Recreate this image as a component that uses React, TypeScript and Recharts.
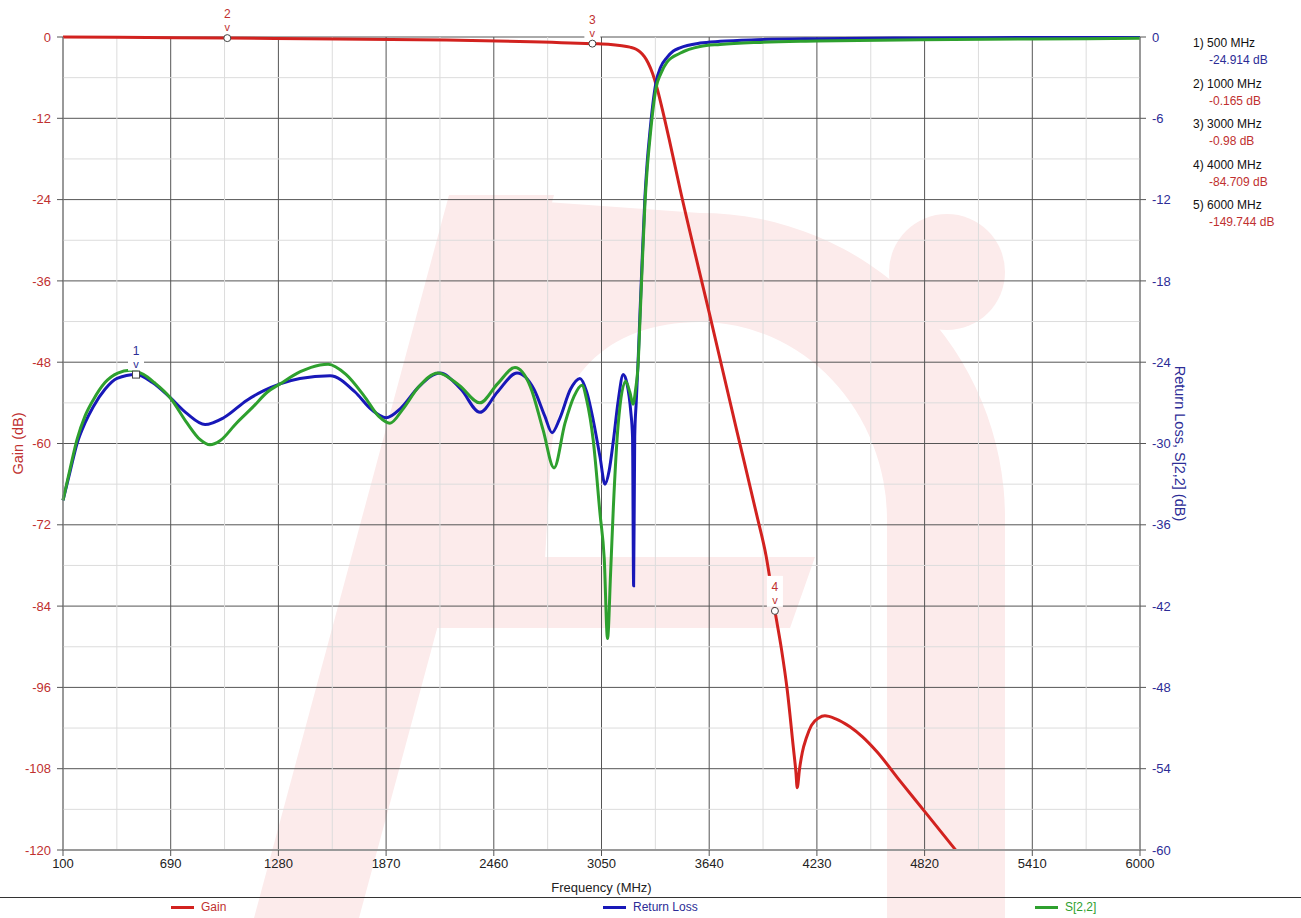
import React from "react"
import {
    LineChart,
    Line,
    XAxis,
    YAxis,
    CartesianGrid,
    ReferenceLine,
    ReferenceDot,
} from "recharts"

// axis ticks
const freqTicks = [100, 690, 1280, 1870, 2460, 3050, 3640, 4230, 4820, 5410, 6000]
const freqMinor = [395, 985, 1575, 2165, 2755, 3345, 3935, 4525, 5115, 5705]
const gainTicks = [-120, -108, -96, -84, -72, -60, -48, -36, -24, -12, 0]
const gainMinor = [-114, -102, -90, -78, -66, -54, -42, -30, -18, -6]
const rlTicks = [-60, -54, -48, -42, -36, -30, -24, -18, -12, -6, 0]

// Gain (left axis)
const gainFreq = [100, 400, 1000, 1600, 2200, 2600, 3000, 3100, 3150, 3206, 3240, 3261, 3285, 3305, 3330, 3354, 3380, 3420, 3480, 3641, 3792, 3900, 3951, 4000, 4035, 4068, 4101, 4115, 4122, 4135, 4150, 4173, 4200, 4240, 4274, 4330, 4411, 4480, 4559, 4685, 4820, 4990]
const gainDb = [0, -0.05, -0.165, -0.28, -0.45, -0.65, -0.98, -1.1, -1.25, -1.5, -1.8, -2.2, -2.9, -3.8, -5.4, -7.5, -10.3, -15, -22.4, -40.8, -58.2, -70.5, -76.5, -84.7, -90.2, -96.5, -104.9, -108.5, -110.8, -108, -105.6, -103.4, -101.6, -100.5, -100.2, -100.6, -101.8, -103.3, -105.5, -109.8, -114.3, -120]

// Return Loss (right axis)
const rlFreq = [100, 140, 177, 220, 265, 330, 396, 500, 590, 686, 780, 878, 980, 1108, 1200, 1289, 1398, 1563, 1700, 1790, 1870, 1950, 2050, 2165, 2280, 2384, 2480, 2587, 2680, 2740, 2779, 2820, 2880, 2932, 2969, 3005, 3042, 3069, 3092, 3115, 3142, 3169, 3190, 3210, 3220, 3226, 3232, 3240, 3250, 3262, 3272, 3288, 3300, 3316, 3330, 3348, 3375, 3409, 3442, 3480, 3590, 3700, 3900, 4230, 4800, 5400, 6000]
const rlDb = [-34.2, -32, -30, -28.5, -27.3, -26, -25.2, -24.91, -25.5, -26.6, -27.8, -28.6, -28.1, -26.8, -26.1, -25.6, -25.2, -25.0, -26.2, -27.5, -28.1, -27.4, -25.8, -24.8, -26, -27.7, -26.2, -24.8, -26, -28, -29.2, -28.2, -26, -25.2, -26.2, -28.3, -31.0, -33.0, -32.0, -29.8, -26.8, -24.9, -25.6, -27.6, -29.5, -40.5, -29.5, -27, -24.1, -20, -16.7, -11.8, -9.3, -6.9, -5.1, -3.4, -2.2, -1.5, -1.05, -0.8, -0.45, -0.32, -0.2, -0.12, -0.07, -0.04, -0.03]

// S[2,2] (right axis)
const s22Freq = [100, 140, 177, 220, 265, 330, 400, 467, 540, 600, 686, 780, 850, 905, 960, 1050, 1141, 1220, 1289, 1400, 1508, 1552, 1650, 1750, 1830, 1891, 1960, 2050, 2154, 2270, 2384, 2480, 2576, 2660, 2730, 2790, 2850, 2900, 2943, 2969, 3005, 3042, 3065, 3083, 3100, 3115, 3142, 3182, 3205, 3223, 3237, 3250, 3262, 3272, 3288, 3300, 3316, 3330, 3348, 3375, 3409, 3480, 3590, 3700, 3900, 4230, 4800, 5400, 6000]
const s22Db = [-34.2, -31.8, -29.7, -28.0, -26.8, -25.5, -24.8, -24.6, -24.9, -25.5, -26.6, -28.5, -29.7, -30.1, -29.8, -28.5, -27.3, -26.2, -25.6, -24.7, -24.2, -24.15, -24.9, -26.5, -28.0, -28.5, -27.5, -25.8, -24.8, -25.7, -27.0, -25.6, -24.4, -25.8, -29.0, -31.8, -28.5, -26.5, -25.7, -26.8, -29.8, -35.2, -38.5, -44.4, -39.5, -34.7, -28.5, -25.4, -26.2, -27.1, -26.0, -24.3, -20.5, -17.2, -12.3, -9.8, -7.4, -5.6, -3.8, -2.7, -1.85, -1.2, -0.7, -0.55, -0.4, -0.3, -0.2, -0.15, -0.1]

// markers
const markerIds = ["1", "2", "3", "4", "5"]
const markerFreq = [500, 1000, 3000, 4000, 6000]
const markerVal = [-24.914, -0.165, -0.98, -84.709, -149.744]
const markerAxis = ["rl", "gain", "gain", "gain", "gain"]

const RED = "#d2221f"
const BLUE = "#1818b8"
const GREEN = "#2ea02e"
const RED_TEXT = "#c0302f"
const BLUE_TEXT = "#2c2c96"

const toRows = (f: number[], v: number[]) => f.map((x, i) => ({ f: x, v: v[i] }))
const gainData = toRows(gainFreq, gainDb)
const rlData = toRows(rlFreq, rlDb)
const s22Data = toRows(s22Freq, s22Db)

function MarkerShape(props: any) {
    const { cx, cy, id, color, square } = props
    return (
        <g>
            <rect x={cx - 8} y={cy - 35} width={16} height={31} fill="#fff" />
            <text x={cx} y={cy - 20} textAnchor="middle" fill={color} fontSize={12}>{id}</text>
            <text x={cx} y={cy - 7} textAnchor="middle" fill={color} fontSize={11}>v</text>
            {square ? (
                <rect x={cx - 3.5} y={cy - 3.5} width={7} height={7} fill="#fff" stroke="#444" strokeWidth={1} />
            ) : (
                <circle cx={cx} cy={cy} r={3.5} fill="#fff" stroke="#444" strokeWidth={1} />
            )}
        </g>
    )
}

// faint logo behind the plot
function Watermark() {
    return (
        <svg width={1301} height={918} style={{ position: "absolute", left: 0, top: 0 }}>
            <g fill="#fcebeb">
                <polygon points="254,918 359,918 554,195 449,195" />
                <polygon points="430,557 815,557 790,628 415,628" />
                <path d="M 449 195 L 700 213 A 305 305 0 0 1 1005 518 L 1005 918 L 887 918 L 887 520 A 187 198 0 0 0 700 322 C 605 322 552 380 550 470 L 545 560 L 430 560 Z" />
                <circle cx={947} cy={272} r={58} />
            </g>
        </svg>
    )
}

export default function App() {
    return (
        <div
            style={{
                position: "absolute",
                left: 0,
                top: 0,
                width: 1301,
                height: 918,
                background: "#fff",
                fontFamily: "'Liberation Sans', Arial, sans-serif",
                overflow: "hidden",
            }}
        >
            <Watermark />
            <div style={{ position: "absolute", left: 0, top: 0 }}>
                <LineChart width={1301} height={918} margin={{ top: 37, right: 111, bottom: 0, left: 0 }}>
                    {freqMinor.map((v) => (
                        <ReferenceLine key={"vx" + v} x={v} yAxisId="gain" stroke="#dcdcdc" />
                    ))}
                    {gainMinor.map((v) => (
                        <ReferenceLine key={"hy" + v} y={v} yAxisId="gain" stroke="#dcdcdc" />
                    ))}
                    <CartesianGrid yAxisId="gain" stroke="#555" strokeWidth={1} />
                    <XAxis
                        dataKey="f"
                        type="number"
                        domain={[100, 6000]}
                        ticks={freqTicks}
                        interval={0}
                        height={68}
                        tickSize={6}
                        tickMargin={3}
                        tick={{ fill: "#222", fontSize: 13 }}
                        axisLine={{ stroke: "#9a9a9a", strokeWidth: 2 }}
                        tickLine={{ stroke: "#555" }}
                        label={{ value: "Frequency (MHz)", position: "insideBottom", offset: 26, fill: "#222", fontSize: 13 }}
                    />
                    <YAxis
                        yAxisId="gain"
                        domain={[-120, 0]}
                        ticks={gainTicks}
                        interval={0}
                        width={63}
                        tickSize={6}
                        tickMargin={6}
                        tick={{ fill: RED_TEXT, fontSize: 13 }}
                        axisLine={{ stroke: "#8a8a8a" }}
                        tickLine={{ stroke: "#555" }}
                        label={{ value: "Gain (dB)", angle: -90, position: "insideLeft", offset: 18, fill: RED_TEXT, fontSize: 14.5, style: { textAnchor: "middle" } }}
                    />
                    <YAxis
                        yAxisId="rl"
                        orientation="right"
                        domain={[-60, 0]}
                        ticks={rlTicks}
                        interval={0}
                        width={50}
                        tickSize={6}
                        tickMargin={6}
                        tick={{ fill: BLUE_TEXT, fontSize: 13 }}
                        axisLine={{ stroke: "#8a8a8a" }}
                        tickLine={{ stroke: "#555" }}
                        label={{ value: "Return Loss, S[2,2] (dB)", angle: 90, position: "insideRight", offset: 10, fill: BLUE_TEXT, fontSize: 14.5, style: { textAnchor: "middle" } }}
                    />
                    <Line yAxisId="gain" data={gainData} dataKey="v" type="monotone" stroke={RED} strokeWidth={3} dot={false} isAnimationActive={false} />
                    <Line yAxisId="rl" data={rlData} dataKey="v" type="monotone" stroke={BLUE} strokeWidth={3} dot={false} isAnimationActive={false} />
                    <Line yAxisId="rl" data={s22Data} dataKey="v" type="monotone" stroke={GREEN} strokeWidth={3} dot={false} isAnimationActive={false} />
                    {markerIds.slice(0, 4).map((id, i) => (
                        <ReferenceDot
                            key={"m" + id}
                            x={markerFreq[i]}
                            y={markerVal[i]}
                            yAxisId={markerAxis[i]}
                            shape={(p: any) => (
                                <MarkerShape {...p} id={id} color={markerAxis[i] === "rl" ? BLUE_TEXT : RED_TEXT} square={markerAxis[i] === "rl"} />
                            )}
                        />
                    ))}
                </LineChart>
            </div>

            {/* marker readout */}
            {markerIds.map((id, i) => (
                <div key={"r" + id} style={{ position: "absolute", left: 1193, top: 35 + i * 40.5, fontSize: 12, lineHeight: "17px" }}>
                    <div style={{ color: "#111" }}>{id}) {markerFreq[i]} MHz</div>
                    <div style={{ color: markerAxis[i] === "rl" ? BLUE_TEXT : RED_TEXT, paddingLeft: 16 }}>{markerVal[i]} dB</div>
                </div>
            ))}

            {/* legend */}
            <div style={{ position: "absolute", left: 0, top: 897, width: 1301, borderTop: "1px solid #333" }} />
            {[
                { name: "Gain", color: RED, text: RED_TEXT, x: 171 },
                { name: "Return Loss", color: BLUE, text: BLUE_TEXT, x: 603 },
                { name: "S[2,2]", color: GREEN, text: GREEN, x: 1035 },
            ].map((it) => (
                <div key={it.name} style={{ position: "absolute", left: it.x, top: 900, display: "flex", alignItems: "center", fontSize: 12, color: it.text }}>
                    <span style={{ display: "inline-block", width: 23, height: 3, background: it.color, marginRight: 7 }} />
                    <span>{it.name}</span>
                </div>
            ))}
        </div>
    )
}
